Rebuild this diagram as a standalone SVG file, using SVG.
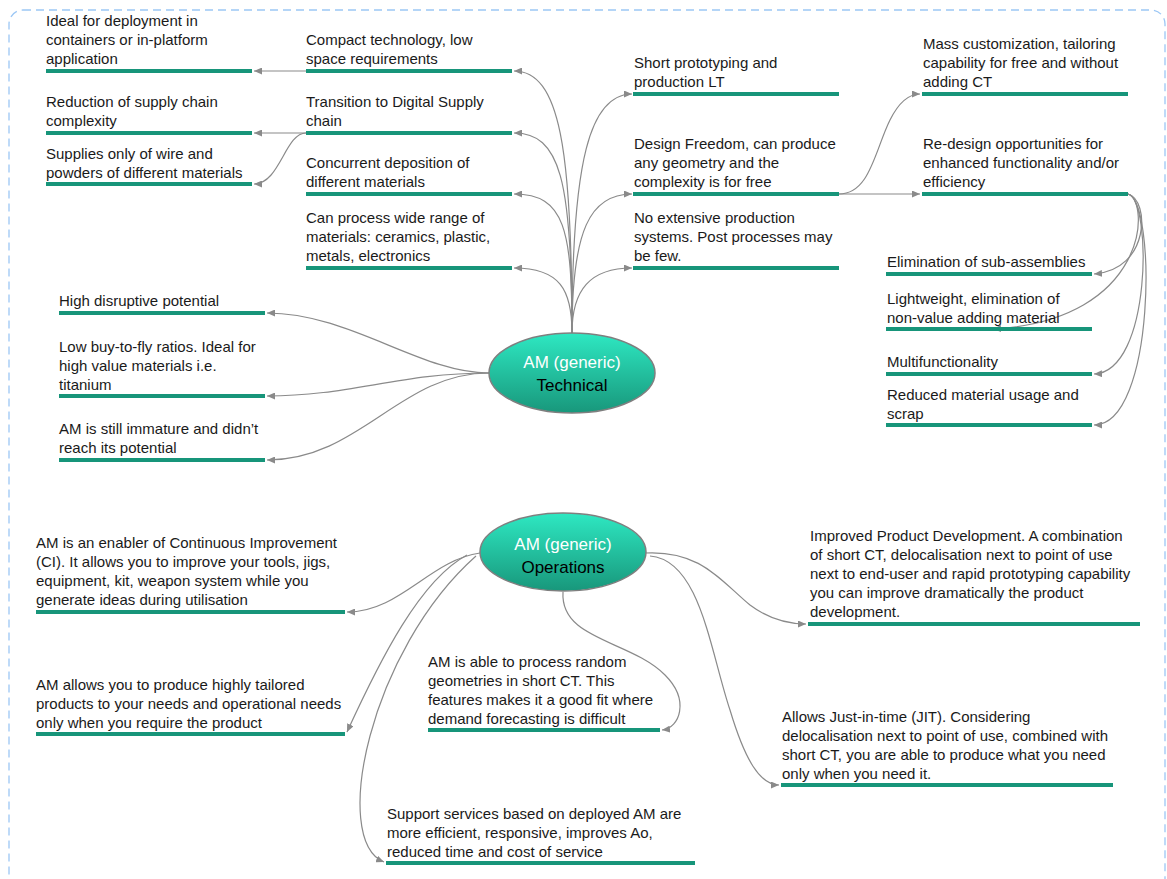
<svg xmlns="http://www.w3.org/2000/svg" width="1167" height="879" viewBox="0 0 1167 879">
<defs>
<style>
.t{font-family:"Liberation Sans",Arial,sans-serif;font-size:15px;fill:#1a1a1a}
.bar{fill:#17957a}
.c{fill:none;stroke:#8a8a8a;stroke-width:1.2;marker-end:url(#ah)}
.ct{font-family:"Liberation Sans",Arial,sans-serif;font-size:17px;text-anchor:middle}
.ell{fill:url(#g);stroke:#7f7f7f;stroke-width:1.5}
</style>
<marker id="ah" viewBox="0 0 8 7" refX="8" refY="3.5" markerWidth="8" markerHeight="7" markerUnits="userSpaceOnUse" orient="auto">
<path d="M0,0 L8,3.5 L0,7 z" fill="#8a8a8a"/>
</marker>
<linearGradient id="g" x1="0" y1="0" x2="0" y2="1">
<stop offset="0" stop-color="#2ee8c2"/>
<stop offset="1" stop-color="#18977b"/>
</linearGradient>
</defs>
<rect x="9" y="10" width="1156" height="885" rx="14" fill="none" stroke="#9cc7f5" stroke-width="1.3" stroke-dasharray="8,5"/>

<g id="connectors">
<path class="c" d="M572 333 C572 150 560 71 514 71"/>
<path class="c" d="M572 333 C572 180 560 133 514 133"/>
<path class="c" d="M572 333 C572 230 565 194 514 194"/>
<path class="c" d="M572 333 C572 290 560 268 514 268"/>
<path class="c" d="M572 333 C572 160 590 94 632 94"/>
<path class="c" d="M572 333 C572 230 590 194 632 194"/>
<path class="c" d="M572 333 C572 290 590 268 632 268"/>
<path class="c" d="M306 71 L254 71"/>
<path class="c" d="M306 133 L254 133"/>
<path class="c" d="M306 133 C285 133 280 184 254 184"/>
<path class="c" d="M839 194 C870 194 875 150 890 120 C900 100 910 94 920 94"/>
<path class="c" d="M839 194 L920 194"/>
<path class="c" d="M1128 194 C1150 200 1150 270 1094 274"/>
<path class="c" d="M1128 194 C1150 200 1150 320 993 329"/>
<path class="c" d="M1128 194 C1152 200 1152 372 1094 374"/>
<path class="c" d="M1128 194 C1156 200 1156 425 1094 425"/>
<path class="c" d="M489 373 C420 373 350 313 267 313"/>
<path class="c" d="M489 373 C400 373 350 396 267 396"/>
<path class="c" d="M489 373 C400 373 360 460 267 460"/>
<path class="c" d="M480 553 C430 560 400 612 347 612"/>
<path class="c" d="M467 555 C420 580 380 660 347 732"/>
<path class="c" d="M476 556 C370 650 330 840 384 862"/>
<path class="c" d="M563 592 C560 640 630 640 665 675 C690 700 680 728 662 730"/>
<path class="c" d="M645 553 C700 550 720 580 750 605 C770 620 790 624 806 624"/>
<path class="c" d="M650 556 C700 560 710 650 730 710 C745 760 760 785 779 785"/>
</g>

<g id="technical">
<ellipse class="ell" cx="572" cy="373" rx="83" ry="40"/>
<text class="ct" x="572" y="368" fill="#ffffff">AM (generic)</text>
<text class="ct" x="572" y="391" fill="#000000">Technical</text>
</g>
<g id="operations">
<ellipse class="ell" cx="563" cy="552" rx="83" ry="39"/>
<text class="ct" x="563" y="550" fill="#ffffff">AM (generic)</text>
<text class="ct" x="563" y="573" fill="#000000">Operations</text>
</g>

<g id="n-compact"><text class="t"><tspan x="306" y="45">Compact technology, low</tspan><tspan x="306" y="64">space requirements</tspan></text><rect class="bar" x="306" y="69" width="206" height="4"/></g>
<g id="n-transition"><text class="t"><tspan x="306" y="107">Transition to Digital Supply</tspan><tspan x="306" y="126">chain</tspan></text><rect class="bar" x="306" y="131" width="206" height="4"/></g>
<g id="n-concurrent"><text class="t"><tspan x="306" y="168">Concurrent deposition of</tspan><tspan x="306" y="187">different materials</tspan></text><rect class="bar" x="306" y="192" width="206" height="4"/></g>
<g id="n-canprocess"><text class="t"><tspan x="306" y="223">Can process wide range of</tspan><tspan x="306" y="242">materials: ceramics, plastic,</tspan><tspan x="306" y="261">metals, electronics</tspan></text><rect class="bar" x="306" y="266" width="206" height="4"/></g>

<g id="n-ideal"><text class="t"><tspan x="46" y="26">Ideal for deployment in</tspan><tspan x="46" y="45">containers or in-platform</tspan><tspan x="46" y="64">application</tspan></text><rect class="bar" x="46" y="69" width="206" height="4"/></g>
<g id="n-reduction"><text class="t"><tspan x="46" y="107">Reduction of supply chain</tspan><tspan x="46" y="126">complexity</tspan></text><rect class="bar" x="46" y="131" width="206" height="4"/></g>
<g id="n-supplies"><text class="t"><tspan x="46" y="159">Supplies only of wire and</tspan><tspan x="46" y="178">powders of different materials</tspan></text><rect class="bar" x="46" y="182" width="206" height="4"/></g>

<g id="n-short"><text class="t"><tspan x="634" y="68">Short prototyping and</tspan><tspan x="634" y="87">production LT</tspan></text><rect class="bar" x="633" y="92" width="206" height="4"/></g>
<g id="n-design"><text class="t"><tspan x="634" y="149">Design Freedom, can produce</tspan><tspan x="634" y="168">any geometry and the</tspan><tspan x="634" y="187">complexity is for free</tspan></text><rect class="bar" x="633" y="192" width="206" height="4"/></g>
<g id="n-noext"><text class="t"><tspan x="634" y="223">No extensive production</tspan><tspan x="634" y="242">systems. Post processes may</tspan><tspan x="634" y="261">be few.</tspan></text><rect class="bar" x="633" y="266" width="206" height="4"/></g>

<g id="n-mass"><text class="t"><tspan x="923" y="49">Mass customization, tailoring</tspan><tspan x="923" y="68">capability for free and without</tspan><tspan x="923" y="87">adding CT</tspan></text><rect class="bar" x="922" y="92" width="206" height="4"/></g>
<g id="n-redesign"><text class="t"><tspan x="923" y="149">Re-design opportunities for</tspan><tspan x="923" y="168">enhanced functionality and/or</tspan><tspan x="923" y="187">efficiency</tspan></text><rect class="bar" x="922" y="192" width="206" height="4"/></g>

<g id="n-elim"><text class="t"><tspan x="887" y="267">Elimination of sub-assemblies</tspan></text><rect class="bar" x="886" y="272" width="206" height="4"/></g>
<g id="n-light"><text class="t"><tspan x="887" y="304">Lightweight, elimination of</tspan><tspan x="887" y="323">non-value adding material</tspan></text><rect class="bar" x="886" y="327" width="206" height="4"/></g>
<g id="n-multi"><text class="t"><tspan x="887" y="367">Multifunctionality</tspan></text><rect class="bar" x="886" y="372" width="206" height="4"/></g>
<g id="n-reduced"><text class="t"><tspan x="887" y="400">Reduced material usage and</tspan><tspan x="887" y="419">scrap</tspan></text><rect class="bar" x="886" y="423" width="206" height="4"/></g>

<g id="n-high"><text class="t"><tspan x="59" y="306">High disruptive potential</tspan></text><rect class="bar" x="59" y="311" width="206" height="4"/></g>
<g id="n-low"><text class="t"><tspan x="59" y="352">Low buy-to-fly ratios. Ideal for</tspan><tspan x="59" y="371">high value materials i.e.</tspan><tspan x="59" y="390">titanium</tspan></text><rect class="bar" x="59" y="394" width="206" height="4"/></g>
<g id="n-immature"><text class="t"><tspan x="59" y="434">AM is still immature and didn’t</tspan><tspan x="59" y="453">reach its potential</tspan></text><rect class="bar" x="59" y="458" width="206" height="4"/></g>

<g id="n-ci"><text class="t"><tspan x="36" y="548">AM is an enabler of Continuous Improvement</tspan><tspan x="36" y="567">(CI). It allows you to improve your tools, jigs,</tspan><tspan x="36" y="586">equipment, kit, weapon system while you</tspan><tspan x="36" y="605">generate ideas during utilisation</tspan></text><rect class="bar" x="36" y="610" width="309" height="4"/></g>
<g id="n-tailored"><text class="t"><tspan x="36" y="690">AM allows you to produce highly tailored</tspan><tspan x="36" y="709">products to your needs and operational needs</tspan><tspan x="36" y="728">only when you require the product</tspan></text><rect class="bar" x="36" y="732" width="309" height="4"/></g>
<g id="n-random"><text class="t"><tspan x="428" y="667">AM is able to process random</tspan><tspan x="428" y="686">geometries in short CT. This</tspan><tspan x="428" y="705">features makes it a good fit where</tspan><tspan x="428" y="724">demand forecasting is difficult</tspan></text><rect class="bar" x="428" y="728" width="232" height="4"/></g>
<g id="n-support"><text class="t"><tspan x="387" y="819">Support services based on deployed AM are</tspan><tspan x="387" y="838">more efficient, responsive, improves Ao,</tspan><tspan x="387" y="857">reduced time and cost of service</tspan></text><rect class="bar" x="386" y="861" width="309" height="4"/></g>
<g id="n-improved"><text class="t"><tspan x="810" y="541">Improved Product Development. A combination</tspan><tspan x="810" y="560">of short CT, delocalisation next to point of use</tspan><tspan x="810" y="579">next to end-user and rapid prototyping capability</tspan><tspan x="810" y="598">you can improve dramatically the product</tspan><tspan x="810" y="617">development.</tspan></text><rect class="bar" x="808" y="622" width="332" height="4"/></g>
<g id="n-jit"><text class="t"><tspan x="782" y="722">Allows Just-in-time (JIT). Considering</tspan><tspan x="782" y="741">delocalisation next to point of use, combined with</tspan><tspan x="782" y="760">short CT, you are able to produce what you need</tspan><tspan x="782" y="779">only when you need it.</tspan></text><rect class="bar" x="781" y="783" width="332" height="4"/></g>
</svg>
